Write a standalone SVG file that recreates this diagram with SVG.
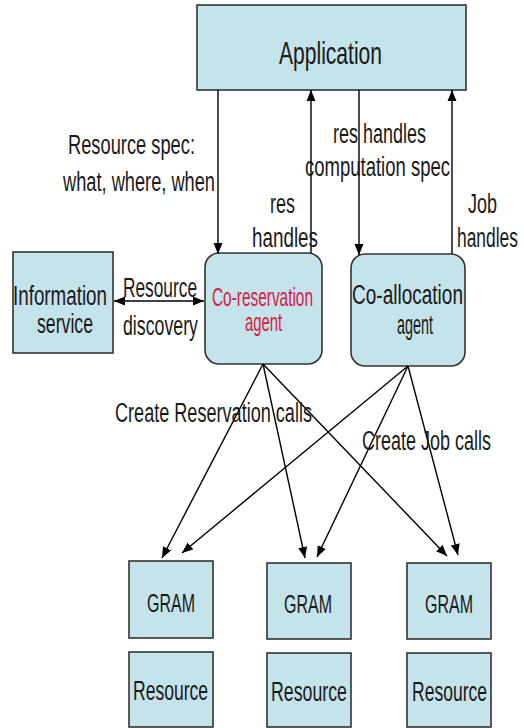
<svg xmlns="http://www.w3.org/2000/svg" width="524" height="728" viewBox="0 0 524 728">
  <defs>
    <marker id="arrow" markerUnits="userSpaceOnUse" markerWidth="12" markerHeight="10" viewBox="0 0 12 10" refX="11" refY="5" orient="auto-start-reverse">
      <path d="M0,0.5 L11,5 L0,9.5 z" fill="#000"/>
    </marker>
    <style>
      .box { fill: #c5e3ea; stroke: #333; stroke-width: 1.6; }
      .t { font-family: "Liberation Sans", Arial, sans-serif; font-size: 27px; fill: #1a1a1a; }
      .big { font-size: 32px; }
      .gram { font-size: 25px; }
      .red { fill: #d42048; font-size: 25px; }
      .edge { stroke: #000; stroke-width: 1.4; fill: none; marker-end: url(#arrow); }
    </style>
  </defs>
  <rect width="524" height="728" fill="#fff"/>

  <g id="application">
    <rect class="box" x="197" y="5" width="269" height="85"/>
    <text class="t big" x="279" y="64" textLength="103" lengthAdjust="spacingAndGlyphs">Application</text>
  </g>

  <g id="information-service">
    <rect class="box" x="13" y="252" width="100" height="101"/>
    <text class="t" x="13" y="305" textLength="94" lengthAdjust="spacingAndGlyphs">Information</text>
    <text class="t" x="37" y="333" textLength="56" lengthAdjust="spacingAndGlyphs">service</text>
  </g>

  <g id="co-reservation-agent">
    <rect class="box" x="205" y="253" width="117" height="111" rx="14"/>
    <text class="t red" x="212" y="306" textLength="101" lengthAdjust="spacingAndGlyphs">Co-reservation</text>
    <text class="t red" x="245" y="331" textLength="37" lengthAdjust="spacingAndGlyphs">agent</text>
  </g>

  <g id="co-allocation-agent">
    <rect class="box" x="351" y="254" width="114" height="112" rx="14"/>
    <text class="t" x="352" y="304" textLength="111" lengthAdjust="spacingAndGlyphs">Co-allocation</text>
    <text class="t" x="397" y="334" textLength="36" lengthAdjust="spacingAndGlyphs">agent</text>
  </g>

  <g id="gram-1">
    <rect class="box" x="129" y="561" width="84" height="77"/>
    <text class="t gram" x="147" y="612" textLength="48" lengthAdjust="spacingAndGlyphs">GRAM</text>
  </g>
  <g id="gram-2">
    <rect class="box" x="267" y="563" width="84" height="76"/>
    <text class="t gram" x="284" y="613" textLength="48" lengthAdjust="spacingAndGlyphs">GRAM</text>
  </g>
  <g id="gram-3">
    <rect class="box" x="407" y="563" width="84" height="76"/>
    <text class="t gram" x="425" y="613" textLength="48" lengthAdjust="spacingAndGlyphs">GRAM</text>
  </g>

  <g id="resource-1">
    <rect class="box" x="129" y="652" width="84" height="75"/>
    <text class="t" x="133" y="700" textLength="75" lengthAdjust="spacingAndGlyphs">Resource</text>
  </g>
  <g id="resource-2">
    <rect class="box" x="267" y="653" width="84" height="74"/>
    <text class="t" x="271" y="701" textLength="76" lengthAdjust="spacingAndGlyphs">Resource</text>
  </g>
  <g id="resource-3">
    <rect class="box" x="407" y="653" width="84" height="74"/>
    <text class="t" x="412" y="701" textLength="75" lengthAdjust="spacingAndGlyphs">Resource</text>
  </g>

  <g id="connectors">
    <!-- application <-> agents -->
    <line class="edge" x1="218" y1="90" x2="218" y2="254"/>
    <line class="edge" x1="311" y1="253" x2="311" y2="90"/>
    <line class="edge" x1="359" y1="90" x2="359" y2="255"/>
    <line class="edge" x1="452" y1="254" x2="452" y2="90"/>
    <!-- resource discovery -->
    <line class="edge" x1="114" y1="301" x2="204" y2="301" marker-start="url(#arrow)"/>
    <!-- create reservation calls -->
    <line class="edge" x1="263" y1="364" x2="162" y2="558"/>
    <line class="edge" x1="263" y1="364" x2="305" y2="558"/>
    <line class="edge" x1="263" y1="364" x2="447" y2="556"/>
    <!-- create job calls -->
    <line class="edge" x1="408" y1="366" x2="182" y2="553"/>
    <line class="edge" x1="408" y1="366" x2="317" y2="557"/>
    <line class="edge" x1="408" y1="366" x2="458" y2="555"/>
  </g>

  <g id="labels">
    <text class="t" x="68" y="154" textLength="127" lengthAdjust="spacingAndGlyphs">Resource spec:</text>
    <text class="t" x="63" y="191" textLength="152" lengthAdjust="spacingAndGlyphs">what, where, when</text>
    <text class="t" x="333" y="143" textLength="93" lengthAdjust="spacingAndGlyphs">res handles</text>
    <text class="t" x="305" y="176" textLength="145" lengthAdjust="spacingAndGlyphs">computation spec</text>
    <text class="t" x="270" y="213" textLength="25" lengthAdjust="spacingAndGlyphs">res</text>
    <text class="t" x="252" y="247" textLength="66" lengthAdjust="spacingAndGlyphs">handles</text>
    <text class="t" x="468" y="213" textLength="29" lengthAdjust="spacingAndGlyphs">Job</text>
    <text class="t" x="457" y="247" textLength="61" lengthAdjust="spacingAndGlyphs">handles</text>
    <text class="t" x="123" y="297" textLength="74" lengthAdjust="spacingAndGlyphs">Resource</text>
    <text class="t" x="123" y="335" textLength="75" lengthAdjust="spacingAndGlyphs">discovery</text>
    <text class="t" x="115" y="422" textLength="197" lengthAdjust="spacingAndGlyphs">Create Reservation calls</text>
    <text class="t" x="362" y="450" textLength="129" lengthAdjust="spacingAndGlyphs">Create Job calls</text>
  </g>
</svg>
